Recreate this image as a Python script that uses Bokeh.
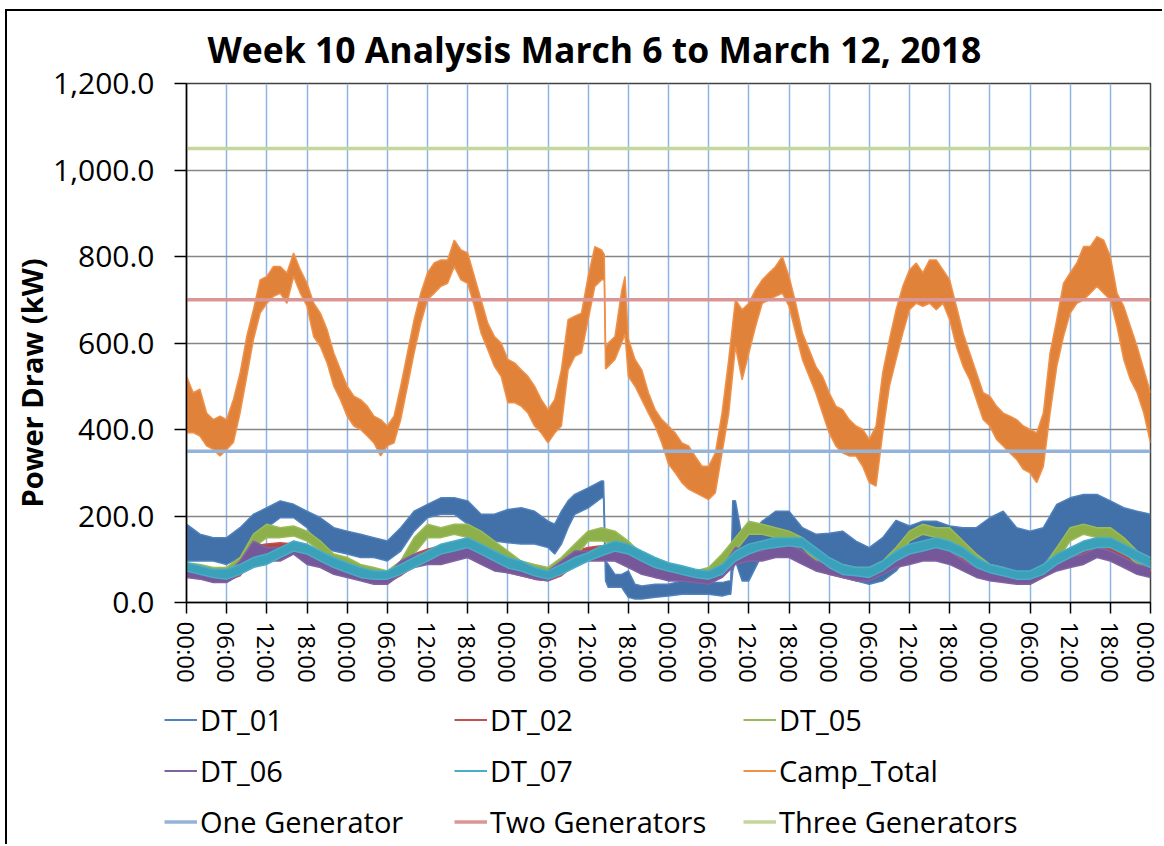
import math
from bokeh.plotting import figure
from bokeh.layouts import column
from bokeh.models import FixedTicker, NumeralTickFormatter, Legend, LegendItem, Title
from bokeh.embed import file_html
from bokeh.resources import INLINE

TITLE = "Week 10 Analysis March 6 to March 12, 2018"
Y_LABEL = "Power Draw (kW)"

tick_hours = list(range(0, 145, 6))
tick_labels = ["00:00", "06:00", "12:00", "18:00"] * 6 + ["00:00"]
y_ticks = [0, 200, 400, 600, 800, 1000, 1200]

# ---- DT_01 (own sampling, hours from start) ----
dt01_t = [0, 2, 4, 6, 8, 10, 12, 14, 16, 18, 20, 22, 24, 26, 28, 30, 32, 34, 36, 38, 40, 42, 44, 46,
          48, 50, 52, 54, 55, 56, 57, 58, 60, 62, 62.3, 62.6, 63, 64, 65, 66, 67, 68, 70, 72, 74, 76,
          78, 80, 81, 81.3, 81.6, 82, 83, 84, 86, 88, 90, 92, 94, 96, 98, 100, 102, 104, 106, 108,
          110, 112, 114, 116, 118, 120, 122, 124, 126, 128, 130, 132, 134, 136, 138, 140, 142, 144]
dt01_lo = [96, 96, 96, 88, 104, 142, 173, 196, 196, 173, 127, 119, 112, 104, 104, 96, 119, 165, 196, 204, 204, 181, 150, 142,
           138, 135, 135, 127, 112, 135, 173, 204, 219, 242, 242, 50, 35, 35, 35, 12, 8, 8, 12, 15, 19, 19,
           19, 15, 19, 19, 73, 96, 50, 50, 112, 142, 135, 96, 81, 70, 58, 50, 42, 50, 73, 112,
           119, 127, 112, 96, 88, 73, 65, 65, 73, 88, 127, 150, 173, 158, 150, 127, 112, 73]
dt01_hi = [181, 158, 150, 150, 173, 204, 219, 235, 227, 211, 196, 173, 165, 158, 150, 142, 173, 211, 227, 242, 242, 235, 204, 204,
           215, 219, 211, 188, 181, 211, 235, 250, 265, 281, 281, 96, 88, 65, 65, 73, 42, 38, 42, 42, 50, 46,
           46, 46, 50, 50, 235, 235, 150, 158, 188, 211, 211, 173, 158, 160, 165, 142, 127, 150, 190, 177,
           188, 188, 177, 173, 173, 196, 211, 173, 165, 173, 227, 242, 250, 250, 235, 219, 211, 204]

# ---- DT_02, DT_05, DT_06, DT_07 (every 2 hours, 0..144) ----
t2 = list(range(0, 145, 2))
dt02_lo = [62, 58, 50, 50, 62, 104, 104, 112, 112, 96, 85, 69,
           62, 54, 46, 46, 62, 85, 96, 104, 108, 104, 92, 77,
           69, 62, 54, 50, 62, 88, 100, 104, 96, 85, 69, 58,
           54, 50, 46, 46, 58, 92, 100, 104, 112, 108, 92, 77,
           65, 58, 54, 54, 69, 88, 96, 100, 104, 92, 77, 62,
           54, 50, 46, 46, 62, 81, 88, 96, 108, 100, 85, 69,
           62]
dt02_hi = [85, 77, 73, 69, 88, 131, 135, 138, 135, 119, 108, 92,
           85, 77, 69, 69, 92, 112, 123, 131, 135, 131, 119, 100,
           92, 85, 77, 73, 92, 119, 127, 131, 123, 112, 96, 85,
           77, 73, 69, 69, 88, 123, 127, 131, 138, 135, 119, 100,
           88, 81, 77, 77, 96, 115, 123, 131, 131, 119, 100, 85,
           77, 69, 69, 69, 85, 104, 112, 119, 131, 127, 112, 92,
           85]
dt05_lo = [73, 65, 58, 58, 81, 127, 150, 150, 154, 142, 119, 88,
           81, 65, 58, 50, 73, 112, 150, 150, 158, 150, 135, 112,
           92, 73, 65, 58, 81, 104, 142, 142, 135, 119, 88, 73,
           65, 58, 54, 58, 81, 119, 158, 158, 150, 142, 127, 96,
           77, 65, 58, 58, 73, 96, 142, 158, 150, 142, 119, 88,
           65, 58, 46, 42, 58, 96, 142, 158, 150, 142, 119, 88,
           73]
dt05_hi = [92, 88, 81, 81, 104, 158, 181, 173, 177, 165, 142, 112,
           104, 88, 81, 73, 96, 150, 181, 173, 181, 181, 165, 142,
           119, 96, 88, 81, 104, 135, 165, 173, 165, 142, 112, 96,
           88, 81, 73, 81, 112, 150, 188, 181, 173, 165, 150, 119,
           100, 88, 81, 81, 96, 127, 165, 181, 173, 173, 142, 112,
           88, 81, 69, 65, 81, 127, 173, 181, 173, 173, 150, 119,
           96]
dt06_lo = [58, 54, 46, 46, 65, 96, 96, 96, 112, 88, 81, 65,
           58, 50, 42, 42, 65, 81, 88, 88, 96, 104, 88, 73,
           69, 62, 54, 50, 65, 88, 96, 96, 96, 81, 65, 58,
           50, 50, 46, 42, 58, 88, 96, 96, 104, 104, 88, 73,
           65, 58, 50, 50, 65, 81, 88, 96, 96, 88, 73, 58,
           50, 46, 42, 42, 58, 73, 81, 88, 104, 96, 81, 65,
           58]
dt06_hi = [81, 73, 65, 65, 96, 142, 127, 127, 142, 119, 104, 88,
           81, 73, 65, 65, 96, 112, 112, 119, 127, 135, 119, 96,
           92, 81, 73, 73, 96, 119, 119, 127, 119, 112, 96, 81,
           73, 73, 65, 65, 81, 127, 119, 119, 135, 135, 119, 96,
           88, 81, 73, 73, 96, 112, 119, 127, 127, 119, 96, 81,
           73, 65, 65, 65, 81, 96, 104, 112, 127, 119, 104, 88,
           81]
dt07_lo = [73, 65, 58, 54, 65, 81, 88, 104, 119, 112, 96, 81,
           69, 58, 54, 54, 65, 81, 96, 112, 119, 127, 112, 96,
           80, 73, 62, 54, 65, 81, 96, 108, 119, 112, 96, 81,
           73, 65, 58, 54, 65, 96, 112, 123, 127, 131, 127, 104,
           81, 65, 62, 58, 73, 96, 112, 119, 127, 119, 104, 81,
           69, 62, 54, 54, 65, 88, 104, 119, 127, 127, 112, 96,
           81]
dt07_hi = [92, 85, 77, 77, 88, 104, 112, 127, 142, 135, 119, 104,
           92, 81, 73, 73, 88, 104, 119, 135, 142, 150, 135, 119,
           104, 96, 81, 73, 88, 104, 115, 131, 142, 135, 119, 104,
           92, 85, 77, 73, 88, 119, 135, 142, 150, 150, 150, 127,
           104, 88, 81, 81, 96, 119, 135, 142, 150, 142, 127, 104,
           88, 81, 73, 73, 88, 112, 127, 142, 150, 150, 135, 119,
           104]

# ---- Camp_Total (hourly, with extra points around the afternoon of day 3) ----
camp_t = list(range(0, 63)) + [62.4, 62.6, 63, 64, 65, 65.5] + list(range(66, 145))
camp_lo = [392, 393, 385, 362, 354, 339, 354, 370, 438, 523, 608, 669,      # 0-11
           692, 708, 715, 692, 754, 715, 685, 615, 592, 554, 500, 469,      # 12-23
           431, 408, 400, 385, 369, 339, 362, 369, 423, 500, 577, 646,      # 24-35
           700, 715, 731, 738, 777, 746, 738, 685, 623, 585, 546, 523,      # 36-47
           462, 462, 454, 438, 408, 392, 369, 392, 408, 538, 569, 577,      # 48-59
           654, 731, 746,                                                   # 60-62
           746, 540, 546, 562, 600, 620,                                    # 62.4-65.5
           523, 500, 469, 438, 408, 369,                                    # 66-71
           320, 300, 277, 262, 254, 246, 238, 254, 346, 438, 592, 515,      # 72-83
           577, 638, 692, 700, 708, 715, 685, 623, 562, 523, 485, 438,      # 84-95
           392, 362, 346, 339, 339, 315, 277, 269, 392, 500, 562, 623,      # 96-107
           677, 692, 685, 692, 677, 692, 654, 592, 546, 515, 469, 423,      # 108-119
           408, 377, 362, 346, 331, 308, 300, 277, 315, 438, 546, 615,      # 120-131
           669, 692, 700, 715, 731, 715, 700, 638, 562, 515, 485, 438,      # 132-143
           369]                                                             # 144
camp_hi = [523, 485, 493, 438, 423, 431, 423, 469, 530, 615, 677, 746,
           754, 777, 777, 762, 808, 769, 738, 692, 669, 631, 577, 538,
           500, 477, 469, 454, 431, 423, 408, 431, 500, 577, 654, 715,
           762, 785, 792, 792, 838, 815, 808, 754, 700, 646, 615, 600,
           562, 554, 538, 523, 500, 469, 446, 469, 538, 654, 662, 669,
           754, 823, 815,
           805, 590, 600, 615, 720, 754,
           610, 562, 538, 485, 446, 423,
           408, 392, 369, 362, 338, 315, 315, 346, 438, 562, 700, 677,
           692, 723, 746, 762, 777, 800, 754, 692, 623, 585, 546, 523,
           485, 454, 446, 423, 408, 400, 377, 408, 531, 608, 677, 731,
           769, 785, 762, 792, 792, 769, 746, 685, 623, 577, 531, 485,
           477, 454, 438, 431, 423, 408, 400, 392, 438, 577, 654, 738,
           762, 785, 823, 823, 846, 838, 800, 715, 685, 638, 592, 538,
           485]

gen_names = ["One Generator", "Two Generators", "Three Generators"]
gen_levels = [350, 700, 1050]

for a, b, c in [(dt01_t, dt01_lo, dt01_hi), (t2, dt02_lo, dt02_hi), (t2, dt05_lo, dt05_hi),
                (t2, dt06_lo, dt06_hi), (t2, dt07_lo, dt07_hi), (camp_t, camp_lo, camp_hi)]:
    assert len(a) == len(b) == len(c), (len(a), len(b), len(c))

FONT = "Open Sans"

# ------------------------------------------------------------------ main chart
p = figure(width=1157, height=678, x_range=(0, 144), y_range=(0, 1200),
           output_backend="svg", toolbar_location=None,
           min_border_left=179, min_border_right=14, min_border_top=71, min_border_bottom=87)
p.frame_align = False
p.styles = {"margin-left": "5px", "margin-top": "9px",
            "border-left": "2px solid black", "border-top": "2px solid black"}
p.background_fill_color = "white"
p.border_fill_color = "white"
p.outline_line_color = "#404040"
p.outline_line_width = 1.5

p.title.text = TITLE
p.title.align = "left"
p.title.offset = 21
p.title.standoff = 22
p.title.text_font = FONT
p.title.text_font_style = "bold"
p.title.text_font_size = "35.5px"
p.title.text_color = "black"

p.add_layout(Title(text=Y_LABEL, align="left", offset=95, standoff=0,
                   text_font=FONT, text_font_style="bold", text_font_size="29px",
                   text_color="black"), "left")

p.xaxis.ticker = FixedTicker(ticks=tick_hours)
p.xaxis.major_label_overrides = {h: s for h, s in zip(tick_hours, tick_labels)}
p.xaxis.major_label_orientation = -math.pi / 2
p.yaxis.ticker = FixedTicker(ticks=y_ticks)
p.yaxis.formatter = NumeralTickFormatter(format="0,0.0")
for ax in (p.xaxis[0], p.yaxis[0]):
    ax.axis_line_color = "black"
    ax.axis_line_width = 1.5
    ax.major_tick_line_color = "black"
    ax.major_tick_line_width = 1.5
    ax.major_tick_in = 0
    ax.minor_tick_line_color = None
    ax.major_label_text_font = FONT
    ax.major_label_text_color = "black"
p.yaxis.major_tick_out = 12
p.yaxis.major_label_standoff = 20
p.yaxis.major_label_text_font_size = "30px"
p.xaxis.major_tick_out = 11
p.xaxis.major_label_standoff = 8
p.xaxis.major_label_text_font_size = "24px"

p.xgrid.ticker = FixedTicker(ticks=tick_hours)
p.xgrid.grid_line_color = "#8DB4E2"
p.xgrid.grid_line_width = 1.5
p.ygrid.grid_line_color = "#868686"
p.ygrid.grid_line_width = 1.5

series = [
    ("DT_01", dt01_t, dt01_lo, dt01_hi, "#4270A8", "#4F81BD"),
    ("DT_02", t2, dt02_lo, dt02_hi, "#B8443F", "#C0504D"),
    ("DT_05", t2, dt05_lo, dt05_hi, "#8DB04B", "#9BBB59"),
    ("DT_06", t2, dt06_lo, dt06_hi, "#75579A", "#8064A2"),
    ("DT_07", t2, dt07_lo, dt07_hi, "#3BA0BA", "#4BACC6"),
    ("Camp_Total", camp_t, camp_lo, camp_hi, "#E0823A", "#F0914A"),
]
for name, tt, lo, hi, fill, edge in series:
    p.varea(x=tt, y1=lo, y2=hi, fill_color=fill, fill_alpha=1.0)
    p.line(x=tt, y=hi, line_color=edge, line_width=1.5)
    p.line(x=tt, y=lo, line_color=edge, line_width=1.5)

gen_colors = ["#95B3D7", "#D99694", "#C3D69B"]
for name, lvl, col in zip(gen_names, gen_levels, gen_colors):
    p.line(x=[camp_t[0], camp_t[-1]], y=[lvl, lvl], line_color=col, line_width=3.5)

# ------------------------------------------------------------------ legend strip
lg = figure(width=1157, height=157, x_range=(0, 1), y_range=(0, 1),
            output_backend="svg", toolbar_location=None,
            x_axis_location=None, y_axis_location=None,
            min_border_left=0, min_border_right=0, min_border_top=0, min_border_bottom=0)
lg.frame_align = False
lg.styles = {"margin-left": "5px", "border-left": "2px solid black"}
lg.grid.visible = False
lg.outline_line_color = None
lg.background_fill_color = "white"
lg.border_fill_color = "white"

NAN = float("nan")
proxy = {}
for name, tt, lo, hi, fill, edge in series:
    proxy[name] = lg.line(x=[NAN], y=[NAN], line_color=edge, line_width=2)
for name, col in zip(gen_names, gen_colors):
    proxy[name] = lg.line(x=[NAN], y=[NAN], line_color=col, line_width=3.5)

columns = [["DT_01", "DT_06", "One Generator"],
           ["DT_02", "DT_07", "Two Generators"],
           ["DT_05", "Camp_Total", "Three Generators"]]
col_x = [157, 447, 736]
for names, cx in zip(columns, col_x):
    leg = Legend(items=[LegendItem(label=n, renderers=[proxy[n]]) for n in names],
                 location=(cx, -3), orientation="vertical",
                 padding=0, spacing=0, margin=0,
                 glyph_width=33, glyph_height=51, label_height=51,
                 label_standoff=3,
                 label_text_font=FONT, label_text_font_size="29px", label_text_color="black",
                 border_line_alpha=0, background_fill_alpha=0)
    lg.add_layout(leg, "center")

layout = column(p, lg, spacing=0)
open("out.html", "w").write(file_html(layout, INLINE))
